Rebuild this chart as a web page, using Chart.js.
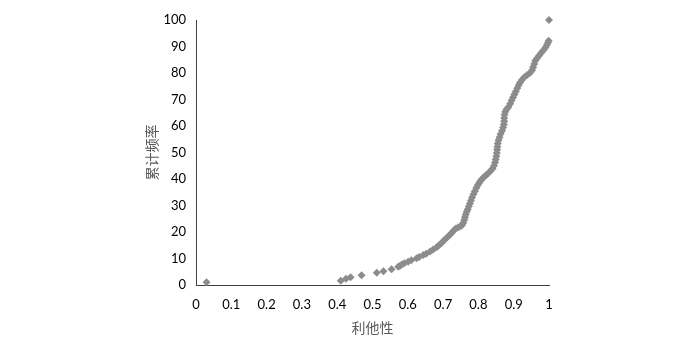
<!DOCTYPE html>
<html><head><meta charset="utf-8">
<script src="https://cdn.jsdelivr.net/npm/chart.js@4"></script>
<style>html,body{margin:0;padding:0;background:#fff}#wrap{width:700px;height:340px}</style>
</head><body><div id="wrap"><canvas id="c" width="700" height="340"></canvas></div>
<script>
const altruism = [0.03,0.41,0.425,0.438,0.469,0.512,0.531,0.554,0.573,0.578,0.583,0.59,0.601,0.61,0.625,0.632,0.644,0.652,0.663,0.672,0.682,0.688,0.695,0.70,0.705,0.712,0.718,0.724,0.729,0.735,0.742,0.748,0.753,0.757,0.760,0.762,0.764,0.767,0.770,0.773,0.776,0.779,0.782,0.786,0.790,0.794,0.798,0.802,0.806,0.811,0.816,0.822,0.828,0.834,0.840,0.844,0.847,0.849,0.851,0.852,0.853,0.854,0.855,0.857,0.860,0.863,0.867,0.870,0.872,0.873,0.873,0.874,0.876,0.880,0.885,0.890,0.894,0.898,0.902,0.906,0.910,0.914,0.918,0.923,0.930,0.938,0.946,0.952,0.955,0.958,0.961,0.966,0.972,0.978,0.984,0.990,0.994,0.997,0.999,1.0];
const cumFreq = [1,1.6,2.4,2.9,3.7,4.6,5.2,5.9,6.9,7.3,7.7,8.2,8.8,9.3,10.1,10.6,11.3,11.8,12.6,13.4,14.2,15.0,15.8,16.5,17.2,18.0,18.8,19.6,20.4,21.2,21.7,22.1,22.5,23.4,24.5,25.6,26.6,27.6,28.6,29.7,30.8,31.9,33.0,34.2,35.4,36.6,37.6,38.5,39.3,40.1,40.8,41.5,42.2,43.0,43.9,45.0,46.2,47.4,48.6,49.8,51.0,52.2,53.4,54.6,55.8,57.0,58.2,59.4,60.6,61.8,63.0,64.2,65.4,66.3,67.2,68.4,69.6,70.8,71.9,73.0,74.2,75.4,76.4,77.4,78.4,79.2,80.0,81.0,82.2,83.4,84.6,85.6,86.6,87.6,88.6,89.6,90.6,91.4,92.2,100];
const xTickLabels = ['0','0.1','0.2','0.3','0.4','0.5','0.6','0.7','0.8','0.9','1'];
const yTickLabels = ['0','10','20','30','40','50','60','70','80','90','100'];
const xTitle = '利他性';
const yTitle = '累计频率';

const points = altruism.map((x, i) => ({x: x, y: cumFreq[i]}));
const tickFont = {family: 'Lato, "Liberation Sans", sans-serif', size: 13};
const titleFont = {family: '"Noto Sans CJK SC", sans-serif', size: 14};

new Chart(document.getElementById('c'), {
  type: 'scatter',
  data: {datasets: [{
    data: points,
    pointStyle: 'rectRot',
    pointRadius: 4,
    pointHoverRadius: 4,
    backgroundColor: '#8c8c8c',
    borderColor: '#8c8c8c',
    borderWidth: 0,
    clip: false
  }]},
  options: {
    responsive: false,
    animation: false,
    events: [],
    layout: {padding: {left: 139, right: 151, top: 20, bottom: 0}},
    plugins: {legend: {display: false}, tooltip: {enabled: false}},
    scales: {
      x: {
        type: 'linear', min: 0, max: 1,
        grid: {display: false, drawTicks: false},
        border: {display: true, color: '#404040', width: 1},
        ticks: {stepSize: 0.1, padding: 12, color: '#000', font: tickFont, maxRotation: 0,
          callback: (v, i) => xTickLabels[i]},
        title: {display: true, text: xTitle, color: '#595959', font: titleFont, padding: {top: 4, bottom: 4}},
        afterFit: s => { s.height = 55; }
      },
      y: {
        type: 'linear', min: 0, max: 100,
        grid: {display: false, drawTicks: false},
        border: {display: true, color: '#404040', width: 1},
        ticks: {stepSize: 10, padding: 10, color: '#000', font: tickFont,
          callback: (v, i) => yTickLabels[i]},
        title: {display: true, text: yTitle, color: '#595959', font: titleFont, padding: {top: 4, bottom: 4}},
        afterFit: s => { s.width = 57; }
      }
    }
  }
});
</script></body></html>
